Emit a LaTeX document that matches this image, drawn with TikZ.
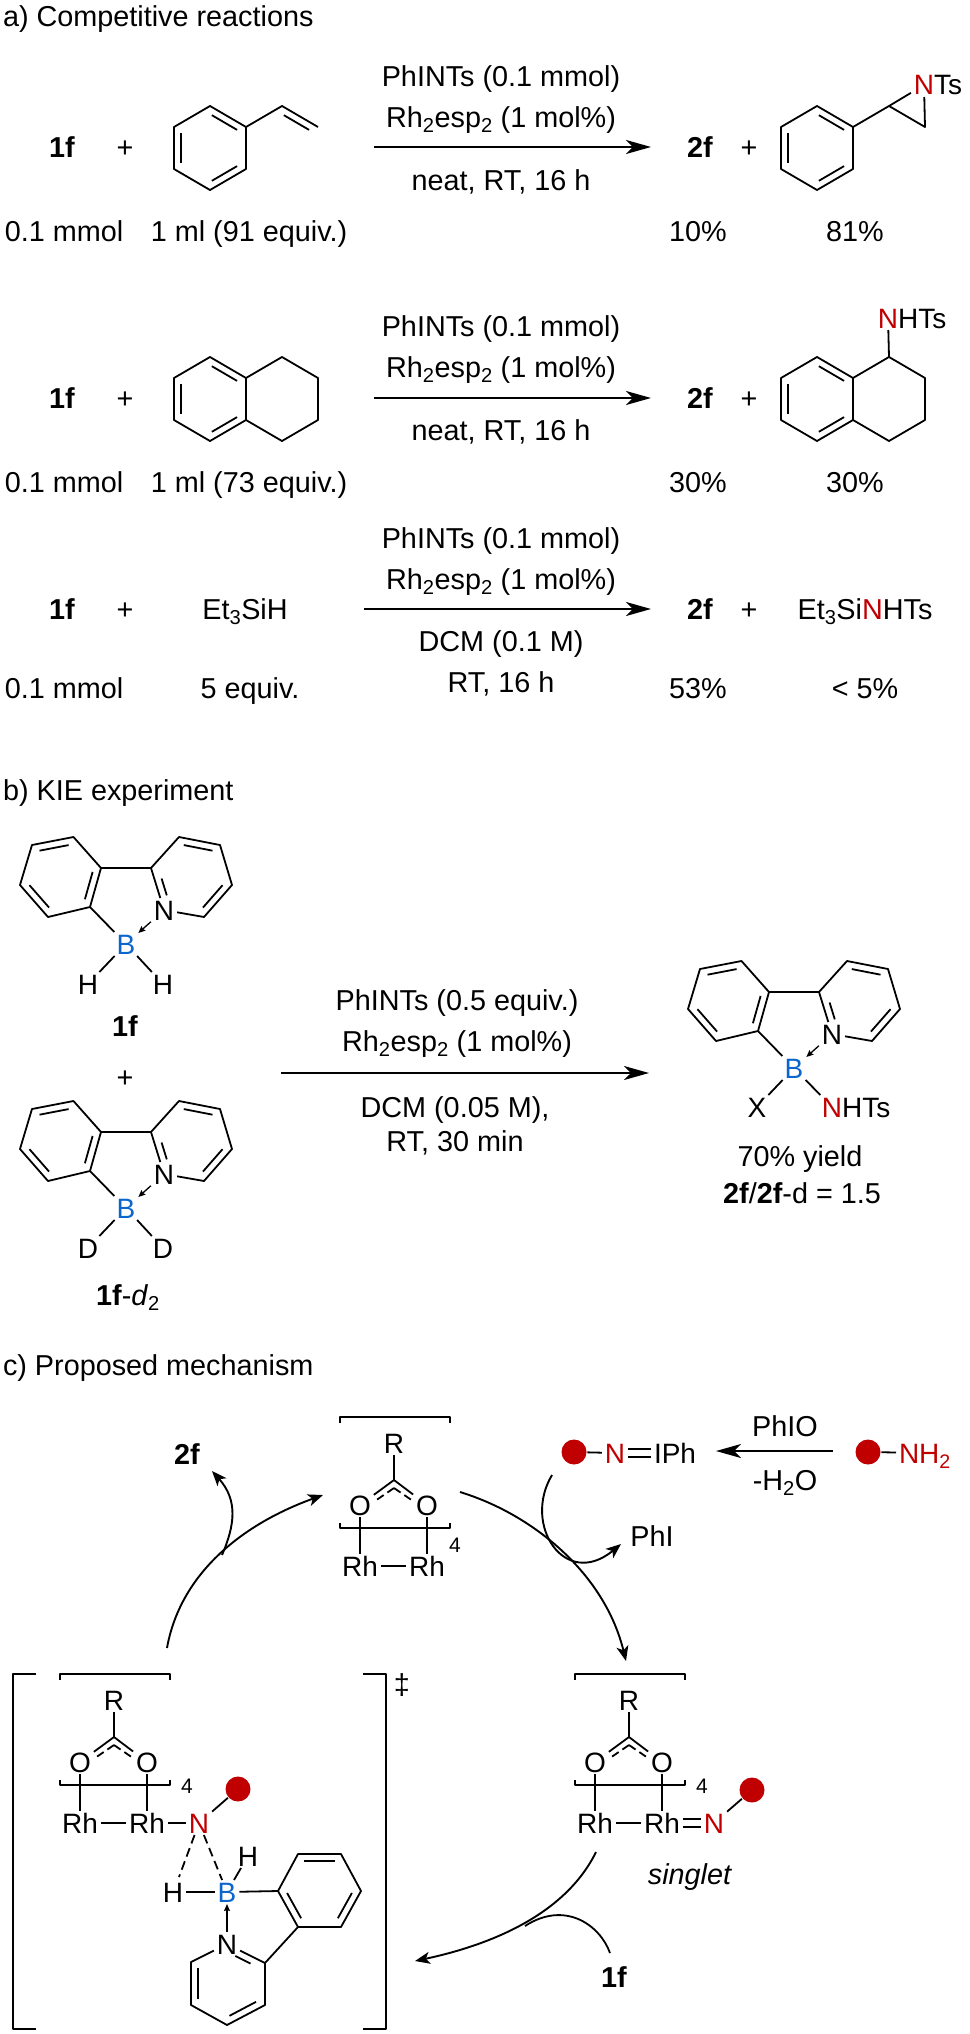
\documentclass[tikz,border=0pt]{standalone}
\usepackage{fontspec}
\setmainfont{Liberation Sans}
\usetikzlibrary{arrows.meta, positioning, math, calc}
\definecolor{NRed}{HTML}{C00000}
\definecolor{BBlue}{HTML}{0A66CC}
\newcommand{\innerbond}[3][0.15]{\draw ($(#2)!#1!(#3)!7pt!-90:(#3)$) -- ($(#3)!#1!(#2)!7pt!90:(#2)$);}

\begin{document}
\begin{tikzpicture}[x=1pt, y=-1pt, line width=1.8pt, line join=round]
	\tikzmath{
		\colA  = 62;   %reagent column
		\colB  = 125;  %first plus
		\colC  = 700;  %product column
		\colD  = 749;  %second plus
		\colT  = 501;  %conditions column
	}
	\tikzstyle{Txt}  = [inner sep=0pt, outer sep=0pt, text height=20.5pt, text depth=0pt, font=\fontsize{28.8}{34}\selectfont]
	\tikzstyle{Atom} = [inner xsep=3pt, inner ysep=2pt, outer sep=0pt, text height=20pt, text depth=0pt, font=\fontsize{28}{33}\selectfont]
	\tikzstyle{Small} = [inner sep=0pt, font=\fontsize{21}{24}\selectfont]
	\tikzstyle{Ball} = [circle, fill=NRed, inner sep=0pt, minimum size=25pt]
	\tikzstyle{RxnArrow} = [line width=2.1pt, -{Stealth[length=25pt, width=14pt, inset=7pt]}]
	\tikzstyle{Curve} = [line width=1.9pt, -{Stealth[length=15pt, width=12pt, inset=4pt]}]
	\tikzstyle{Dative} = [line width=1.3pt, -{Stealth[length=7pt, width=6pt, inset=1pt]}]
	\tikzstyle{HalfBond} = [dash pattern=on 8pt off 4.5pt]
	\useasboundingbox (0,0) rectangle (969,2034);

	%%%%%%%%%%%%%%%%%%%%%%%%%%===---PART A---===%%%%%%%%%%%%%%%%%%%%%%%%%%
	\node (titleA) [Txt, anchor=west] at (3,16) {a) Competitive reactions};

	%first reaction
	\node (a1sm)   [Txt] at (\colA,147)  {\textbf{1f}};
	\node (a1plus) [Txt] at (\colB,147)  {+};
	\coordinate (s1) at (174,127);
	\coordinate (s2) at (210,106);
	\coordinate (s3) at (246,127);
	\coordinate (s4) at (246,169);
	\coordinate (s5) at (210,190);
	\coordinate (s6) at (174,169);
	\coordinate (s7) at (282,106);
	\coordinate (s8) at (318,127);
	\draw (s1) -- (s2) -- (s3) -- (s4) -- (s5) -- (s6) -- cycle;
	\innerbond{s2}{s3}
	\innerbond{s4}{s5}
	\innerbond{s6}{s1}
	\draw (s3) -- (s7) -- (s8);
	\innerbond{s7}{s8}
	\node (a1cat)  [Txt] at (\colT,76)   {PhINTs (0.1 mmol)};
	\node (a1rh)   [Txt] at (\colT,117)  {Rh\textsubscript{2}esp\textsubscript{2} (1 mol\%)};
	\node (a1cond) [Txt] at (\colT,180)  {neat, RT, 16 h};
	\coordinate (a1from) at (374,147);
	\coordinate (a1to)   at (651,147);
	\draw[RxnArrow] (a1from) -- (a1to);
	\node (a1pr)   [Txt] at (\colC,147)  {\textbf{2f}};
	\node (a1plus2)[Txt] at (\colD,147)  {+};
	\coordinate (p1) at (781,127);
	\coordinate (p2) at (817,106);
	\coordinate (p3) at (853,127);
	\coordinate (p4) at (853,169);
	\coordinate (p5) at (817,190);
	\coordinate (p6) at (781,169);
	\coordinate (p7) at (889,106);
	\coordinate (p8) at (925,127);
	\draw (p1) -- (p2) -- (p3) -- (p4) -- (p5) -- (p6) -- cycle;
	\innerbond{p2}{p3}
	\innerbond{p4}{p5}
	\innerbond{p6}{p1}
	\node (a1N)  [Atom] at (924,85) {\textcolor{NRed}{N}};
	\node (a1Ts) [Atom, right=-6pt of a1N] {Ts};
	\draw (p3) -- (p7) -- (p8) -- (a1N);
	\draw (p7) -- (a1N);
	\node (a1q1) [Txt] at (64,231)  {0.1 mmol};
	\node (a1q2) [Txt] at (249,231) {1 ml (91 equiv.)};
	\node (a1q3) [Txt] at (698,231) {10\%};
	\node (a1q4) [Txt] at (855,231) {81\%};

	%second reaction
	\node (a2sm)   [Txt] at (\colA,398)  {\textbf{1f}};
	\node (a2plus) [Txt] at (\colB,398)  {+};
	\coordinate (t1) at (174,378);
	\coordinate (t2) at (210,357);
	\coordinate (t3) at (246,378);
	\coordinate (t4) at (246,420);
	\coordinate (t5) at (210,441);
	\coordinate (t6) at (174,420);
	\coordinate (t7) at (282,357);
	\coordinate (t8) at (318,378);
	\coordinate (t9) at (318,420);
	\coordinate (t10) at (282,441);
	\draw (t1) -- (t2) -- (t3) -- (t4) -- (t5) -- (t6) -- cycle;
	\innerbond{t2}{t3}
	\innerbond{t4}{t5}
	\innerbond{t6}{t1}
	\draw (t3) -- (t7) -- (t8) -- (t9) -- (t10) -- (t4);
	\node (a2cat)  [Txt] at (\colT,326)  {PhINTs (0.1 mmol)};
	\node (a2rh)   [Txt] at (\colT,367)  {Rh\textsubscript{2}esp\textsubscript{2} (1 mol\%)};
	\node (a2cond) [Txt] at (\colT,430)  {neat, RT, 16 h};
	\coordinate (a2from) at (374,398);
	\coordinate (a2to)   at (651,398);
	\draw[RxnArrow] (a2from) -- (a2to);
	\node (a2pr)   [Txt] at (\colC,398)  {\textbf{2f}};
	\node (a2plus2)[Txt] at (\colD,398)  {+};
	\coordinate (q1) at (781,378);
	\coordinate (q2) at (817,357);
	\coordinate (q3) at (853,378);
	\coordinate (q4) at (853,420);
	\coordinate (q5) at (817,441);
	\coordinate (q6) at (781,420);
	\coordinate (q7) at (889,357);
	\coordinate (q8) at (925,378);
	\coordinate (q9) at (925,420);
	\coordinate (q10) at (889,441);
	\draw (q1) -- (q2) -- (q3) -- (q4) -- (q5) -- (q6) -- cycle;
	\innerbond{q2}{q3}
	\innerbond{q4}{q5}
	\innerbond{q6}{q1}
	\draw (q3) -- (q7) -- (q8) -- (q9) -- (q10) -- (q4);
	\node (a2N)   [Atom] at (888,318) {\textcolor{NRed}{N}};
	\node (a2HTs) [Atom, right=-6pt of a2N] {HTs};
	\draw (q7) -- (a2N);
	\node (a2q1) [Txt] at (64,482)  {0.1 mmol};
	\node (a2q2) [Txt] at (249,482) {1 ml (73 equiv.)};
	\node (a2q3) [Txt] at (698,482) {30\%};
	\node (a2q4) [Txt] at (855,482) {30\%};

	%third reaction
	\node (a3sm)   [Txt] at (\colA,609)  {\textbf{1f}};
	\node (a3plus) [Txt] at (\colB,609)  {+};
	\node (a3si)   [Txt] at (245,609)    {Et\textsubscript{3}SiH};
	\node (a3cat)  [Txt] at (\colT,538)  {PhINTs (0.1 mmol)};
	\node (a3rh)   [Txt] at (\colT,579)  {Rh\textsubscript{2}esp\textsubscript{2} (1 mol\%)};
	\node (a3cond) [Txt] at (\colT,641)  {DCM (0.1 M)};
	\node (a3time) [Txt] at (\colT,682)  {RT, 16 h};
	\coordinate (a3from) at (364,609);
	\coordinate (a3to)   at (651,609);
	\draw[RxnArrow] (a3from) -- (a3to);
	\node (a3pr)   [Txt] at (\colC,609)  {\textbf{2f}};
	\node (a3plus2)[Txt] at (\colD,609)  {+};
	\node (a3prod) [Txt] at (865,609)    {Et\textsubscript{3}Si\textcolor{NRed}{N}HTs};
	\node (a3q1) [Txt] at (64,688)  {0.1 mmol};
	\node (a3q2) [Txt] at (250,688) {5 equiv.};
	\node (a3q3) [Txt] at (698,688) {53\%};
	\node (a3q4) [Txt] at (865,688) {< 5\%};

	%%%%%%%%%%%%%%%%%%%%%%%%%%===---PART B---===%%%%%%%%%%%%%%%%%%%%%%%%%%
	\node (titleB) [Txt, anchor=west] at (3,790) {b) KIE experiment};

	%substrate with H
	\coordinate (bz1) at (32,845);
	\coordinate (bz2) at (73.5,837);
	\coordinate (bz3) at (101,868);
	\coordinate (bz4) at (90,907);
	\coordinate (bz5) at (48,917);
	\coordinate (bz6) at (20,885);
	\coordinate (py1) at (151,868);
	\coordinate (py2) at (179,837);
	\coordinate (py3) at (220,845);
	\coordinate (py4) at (232,885);
	\coordinate (py5) at (204,917);
	\node (bN) [Atom] at (164,910) {N};
	\node (bB) [Atom] at (126,944) {\textcolor{BBlue}{B}};
	\node (bH1) [Atom] at (88,984)  {H};
	\node (bH2) [Atom] at (163,984) {H};
	\draw (bz1) -- (bz2) -- (bz3) -- (bz4) -- (bz5) -- (bz6) -- cycle;
	\innerbond{bz1}{bz2}
	\innerbond{bz3}{bz4}
	\innerbond{bz5}{bz6}
	\draw (bz3) -- (py1) -- (py2) -- (py3) -- (py4) -- (py5) -- (bN) -- (py1);
	\innerbond{py2}{py3}
	\innerbond{py4}{py5}
	\innerbond[0.3]{bN}{py1}
	\draw (bz4) -- (bB);
	\draw[Dative] (bN) -- (bB);
	\draw (bB) -- (bH1);
	\draw (bB) -- (bH2);
	\node (bName) [Txt] at (125,1026) {\textbf{1f}};
	\node (bPlus) [Txt] at (125,1077) {+};

	%substrate with D
	\begin{scope}[shift={(0,264)}]
		\coordinate (dz1) at (32,845);
		\coordinate (dz2) at (73.5,837);
		\coordinate (dz3) at (101,868);
		\coordinate (dz4) at (90,907);
		\coordinate (dz5) at (48,917);
		\coordinate (dz6) at (20,885);
		\coordinate (dy1) at (151,868);
		\coordinate (dy2) at (179,837);
		\coordinate (dy3) at (220,845);
		\coordinate (dy4) at (232,885);
		\coordinate (dy5) at (204,917);
		\node (dN) [Atom] at (164,910) {N};
		\node (dB) [Atom] at (126,944) {\textcolor{BBlue}{B}};
		\node (dH1) [Atom] at (88,984)  {D};
		\node (dH2) [Atom] at (163,984) {D};
		\draw (dz1) -- (dz2) -- (dz3) -- (dz4) -- (dz5) -- (dz6) -- cycle;
		\innerbond{dz1}{dz2}
		\innerbond{dz3}{dz4}
		\innerbond{dz5}{dz6}
		\draw (dz3) -- (dy1) -- (dy2) -- (dy3) -- (dy4) -- (dy5) -- (dN) -- (dy1);
		\innerbond{dy2}{dy3}
		\innerbond{dy4}{dy5}
		\innerbond[0.3]{dN}{dy1}
		\draw (dz4) -- (dB);
		\draw[Dative] (dN) -- (dB);
		\draw (dB) -- (dH1);
		\draw (dB) -- (dH2);
	\end{scope}
	\node (dName) [Txt] at (128,1295) {\textbf{1f}-\textit{d}\textsubscript{2}};

	\node (bcat)  [Txt] at (457,1000) {PhINTs (0.5 equiv.)};
	\node (brh)   [Txt] at (457,1041) {Rh\textsubscript{2}esp\textsubscript{2} (1 mol\%)};
	\node (bcond) [Txt] at (455,1107) {DCM (0.05 M),};
	\node (btime) [Txt] at (455,1141) {RT, 30 min};
	\coordinate (bfrom) at (281,1073);
	\coordinate (bto)   at (649,1073);
	\draw[RxnArrow] (bfrom) -- (bto);

	%product
	\begin{scope}[shift={(668,124)}]
		\coordinate (xz1) at (32,845);
		\coordinate (xz2) at (73.5,837);
		\coordinate (xz3) at (101,868);
		\coordinate (xz4) at (90,907);
		\coordinate (xz5) at (48,917);
		\coordinate (xz6) at (20,885);
		\coordinate (xy1) at (151,868);
		\coordinate (xy2) at (179,837);
		\coordinate (xy3) at (220,845);
		\coordinate (xy4) at (232,885);
		\coordinate (xy5) at (204,917);
		\node (xN) [Atom] at (164,910) {N};
		\node (xB) [Atom] at (126,944) {\textcolor{BBlue}{B}};
		\node (xX) [Atom] at (89,983)  {X};
		\node (xA) [Atom] at (164,983) {\textcolor{NRed}{N}};
		\node (xHTs) [Atom, right=-6pt of xA] {HTs};
		\draw (xz1) -- (xz2) -- (xz3) -- (xz4) -- (xz5) -- (xz6) -- cycle;
		\innerbond{xz1}{xz2}
		\innerbond{xz3}{xz4}
		\innerbond{xz5}{xz6}
		\draw (xz3) -- (xy1) -- (xy2) -- (xy3) -- (xy4) -- (xy5) -- (xN) -- (xy1);
		\innerbond{xy2}{xy3}
		\innerbond{xy4}{xy5}
		\innerbond[0.3]{xN}{xy1}
		\draw (xz4) -- (xB);
		\draw[Dative] (xN) -- (xB);
		\draw (xB) -- (xX);
		\draw (xB) -- (xA);
	\end{scope}
	\node (xYield) [Txt] at (800,1156) {70\% yield};
	\node (xRatio) [Txt] at (802,1193) {\textbf{2f}/\textbf{2f}-d = 1.5};

	%%%%%%%%%%%%%%%%%%%%%%%%%%===---PART C---===%%%%%%%%%%%%%%%%%%%%%%%%%%
	\node (titleC) [Txt, anchor=west] at (3,1365) {c) Proposed mechanism};

	%free catalyst
	\begin{scope}[shift={(280,-257)}]
		\coordinate (topC) at (114,1737);
		\node (topR)   [Atom] at (114,1700) {R};
		\node (topO1)  [Atom] at (80,1762)  {O};
		\node (topO2)  [Atom] at (147,1762) {O};
		\node (topRh1) [Atom] at (80,1823)  {Rh};
		\node (topRh2) [Atom] at (147,1823) {Rh};
		\node (topFour)[Small] at (175,1802) {4};
		\draw (60,1680) -- (60,1674) -- (170,1674) -- (170,1680);
		\draw (60,1780) -- (60,1785) -- (170,1785) -- (170,1780);
		\draw (topR) -- (topC);
		\draw (topC) -- (topO1);
		\draw (topC) -- (topO2);
		\draw[HalfBond] ($(topC)+(0,8)$) -- ($(topC)+(19,21)$);
		\draw[HalfBond] ($(topC)+(0,8)$) -- ($(topC)+(-19,21)$);
		\draw (topO1) -- (topRh1);
		\draw (topO2) -- (topRh2);
		\draw (topRh1) -- (topRh2);
	\end{scope}

	%nitrene
	\begin{scope}[shift={(515,0)}]
		\coordinate (rtC) at (114,1737);
		\node (rtR)   [Atom] at (114,1700) {R};
		\node (rtO1)  [Atom] at (80,1762)  {O};
		\node (rtO2)  [Atom] at (147,1762) {O};
		\node (rtRh1) [Atom] at (80,1823)  {Rh};
		\node (rtRh2) [Atom] at (147,1823) {Rh};
		\node (rtFour)[Small] at (187,1786) {4};
		\draw (60,1680) -- (60,1674) -- (170,1674) -- (170,1680);
		\draw (60,1780) -- (60,1785) -- (170,1785) -- (170,1780);
		\draw (rtR) -- (rtC);
		\draw (rtC) -- (rtO1);
		\draw (rtC) -- (rtO2);
		\draw[HalfBond] ($(rtC)+(0,8)$) -- ($(rtC)+(19,21)$);
		\draw[HalfBond] ($(rtC)+(0,8)$) -- ($(rtC)+(-19,21)$);
		\draw (rtO1) -- (rtRh1);
		\draw (rtO2) -- (rtRh2);
		\draw (rtRh1) -- (rtRh2);
	\end{scope}
	\node (rtN)    [Atom] at (714,1823) {\textcolor{NRed}{N}};
	\node (rtBall) [Ball] at (752,1790) {};
	\draw ($(rtRh2.east)+(0,-4)$) -- ($(rtN.west)+(0,-4)$);
	\draw ($(rtRh2.east)+(0,4)$) -- ($(rtN.west)+(0,4)$);
	\draw (rtN) -- (rtBall);
	\node (rtSpin) [Txt] at (690,1874) {\textit{singlet}};

	%transition state
	\draw (36,1674) -- (13,1674) -- (13,2029) -- (36,2029);
	\draw (363,1674) -- (386,1674) -- (386,2029) -- (363,2029);
	\node (tsDagger) [Txt] at (402,1684) {‡};
	\coordinate (tsC) at (114,1737);
	\node (tsR)   [Atom] at (114,1700) {R};
	\node (tsO1)  [Atom] at (80,1762)  {O};
	\node (tsO2)  [Atom] at (147,1762) {O};
	\node (tsRh1) [Atom] at (80,1823)  {Rh};
	\node (tsRh2) [Atom] at (147,1823) {Rh};
	\node (tsFour)[Small] at (187,1786) {4};
	\draw (60,1680) -- (60,1674) -- (170,1674) -- (170,1680);
	\draw (60,1780) -- (60,1785) -- (170,1785) -- (170,1780);
	\draw (tsR) -- (tsC);
	\draw (tsC) -- (tsO1);
	\draw (tsC) -- (tsO2);
	\draw[HalfBond] ($(tsC)+(0,8)$) -- ($(tsC)+(19,21)$);
	\draw[HalfBond] ($(tsC)+(0,8)$) -- ($(tsC)+(-19,21)$);
	\draw (tsO1) -- (tsRh1);
	\draw (tsO2) -- (tsRh2);
	\draw (tsRh1) -- (tsRh2);
	\node (tsN)    [Atom] at (199,1823) {\textcolor{NRed}{N}};
	\node (tsBall) [Ball] at (238,1789) {};
	\node (tsB)    [Atom] at (227,1892) {\textcolor{BBlue}{B}};
	\node (tsHa)   [Atom] at (248,1856) {H};
	\node (tsHb)   [Atom] at (173,1892) {H};
	\node (tsPyN)  [Atom] at (227,1944) {N};
	\draw (tsRh2) -- (tsN);
	\draw (tsN) -- (tsBall);
	\coordinate (tsDash1) at (179,1877);
	\draw[dash pattern=on 9pt off 5pt] (tsN) -- (tsB);
	\draw[dash pattern=on 9pt off 5pt] (tsN) -- (tsDash1);
	\draw (tsB) -- (tsHa);
	\draw (tsB) -- (tsHb);
	\draw[Dative] (tsPyN) -- (tsB);
	\coordinate (ar1) at (278,1891);
	\coordinate (ar2) at (298,1854);
	\coordinate (ar3) at (341,1854);
	\coordinate (ar4) at (361,1891);
	\coordinate (ar5) at (341,1927);
	\coordinate (ar6) at (298,1927);
	\coordinate (pd1) at (265,1963);
	\coordinate (pd2) at (265,2005);
	\coordinate (pd3) at (227,2025);
	\coordinate (pd4) at (191,2005);
	\coordinate (pd5) at (191,1962);
	\draw (tsB) -- (ar1) -- (ar2) -- (ar3) -- (ar4) -- (ar5) -- (ar6) -- (ar1);
	\innerbond{ar2}{ar3}
	\innerbond{ar4}{ar5}
	\innerbond{ar6}{ar1}
	\draw (ar6) -- (pd1) -- (pd2) -- (pd3) -- (pd4) -- (pd5) -- (tsPyN) -- (pd1);
	\innerbond{pd2}{pd3}
	\innerbond{pd4}{pd5}
	\innerbond[0.3]{tsPyN}{pd1}

	%nitrene source
	\node (srcBall) [Ball] at (574,1452) {};
	\node (srcN)    [Atom] at (615,1453) {\textcolor{NRed}{N}};
	\node (srcI)    [Atom, anchor=west] at (651,1453) {IPh};
	\draw (srcBall) -- (srcN);
	\draw ($(srcN.east)+(0,-4)$) -- ($(srcI.west)+(0,-4)$);
	\draw ($(srcN.east)+(0,4)$) -- ($(srcI.west)+(0,4)$);
	\node (amBall) [Ball] at (868,1452) {};
	\node (amN)    [Atom, anchor=west] at (896,1453) {\textcolor{NRed}{NH\textsubscript{2}}};
	\draw (amBall) -- (amN);
	\node (oxTop)  [Txt] at (785,1426) {PhIO};
	\node (oxBot)  [Txt] at (785,1480) {-H\textsubscript{2}O};
	\coordinate (oxFrom) at (833,1451);
	\coordinate (oxTo)   at (716,1451);
	\draw[RxnArrow] (oxFrom) -- (oxTo);

	%cycle
	\node (cyc2f)  [Txt] at (187,1454) {\textbf{2f}};
	\node (cycPhI) [Txt] at (652,1536) {PhI};
	\node (cyc1f)  [Txt] at (614,1977) {\textbf{1f}};
	\coordinate (cTsOut)  at (167,1648);
	\coordinate (cTopIn)  at (323,1495);
	\coordinate (cTopOut) at (460,1492);
	\coordinate (cRtIn)   at (626,1661);
	\coordinate (cRtOut)  at (596,1852);
	\coordinate (cTsIn)   at (415,1961);
	\coordinate (c2fFrom) at (222,1555);
	\coordinate (c2fTo)   at (212,1471);
	\coordinate (cIFrom)  at (552,1475);
	\coordinate (cITo)    at (621,1544);
	\coordinate (c1fFrom) at (610,1953);
	\coordinate (c1fTo)   at (525,1926);
	\draw[Curve] (cTsOut) .. controls (180,1575) and (240,1525) .. (cTopIn);
	\draw[Curve] (cTopOut) .. controls (535,1515) and (605,1575) .. (cRtIn);
	\draw[Curve] (cRtOut) .. controls (565,1915) and (490,1945) .. (cTsIn);
	\draw[Curve] (c2fFrom) .. controls (235,1525) and (238,1500) .. (c2fTo);
	\draw[Curve] (cIFrom) .. controls (522,1525) and (565,1590) .. (cITo);
	\draw (c1fFrom) .. controls (600,1925) and (565,1900) .. (c1fTo);
\end{tikzpicture}
\end{document}
